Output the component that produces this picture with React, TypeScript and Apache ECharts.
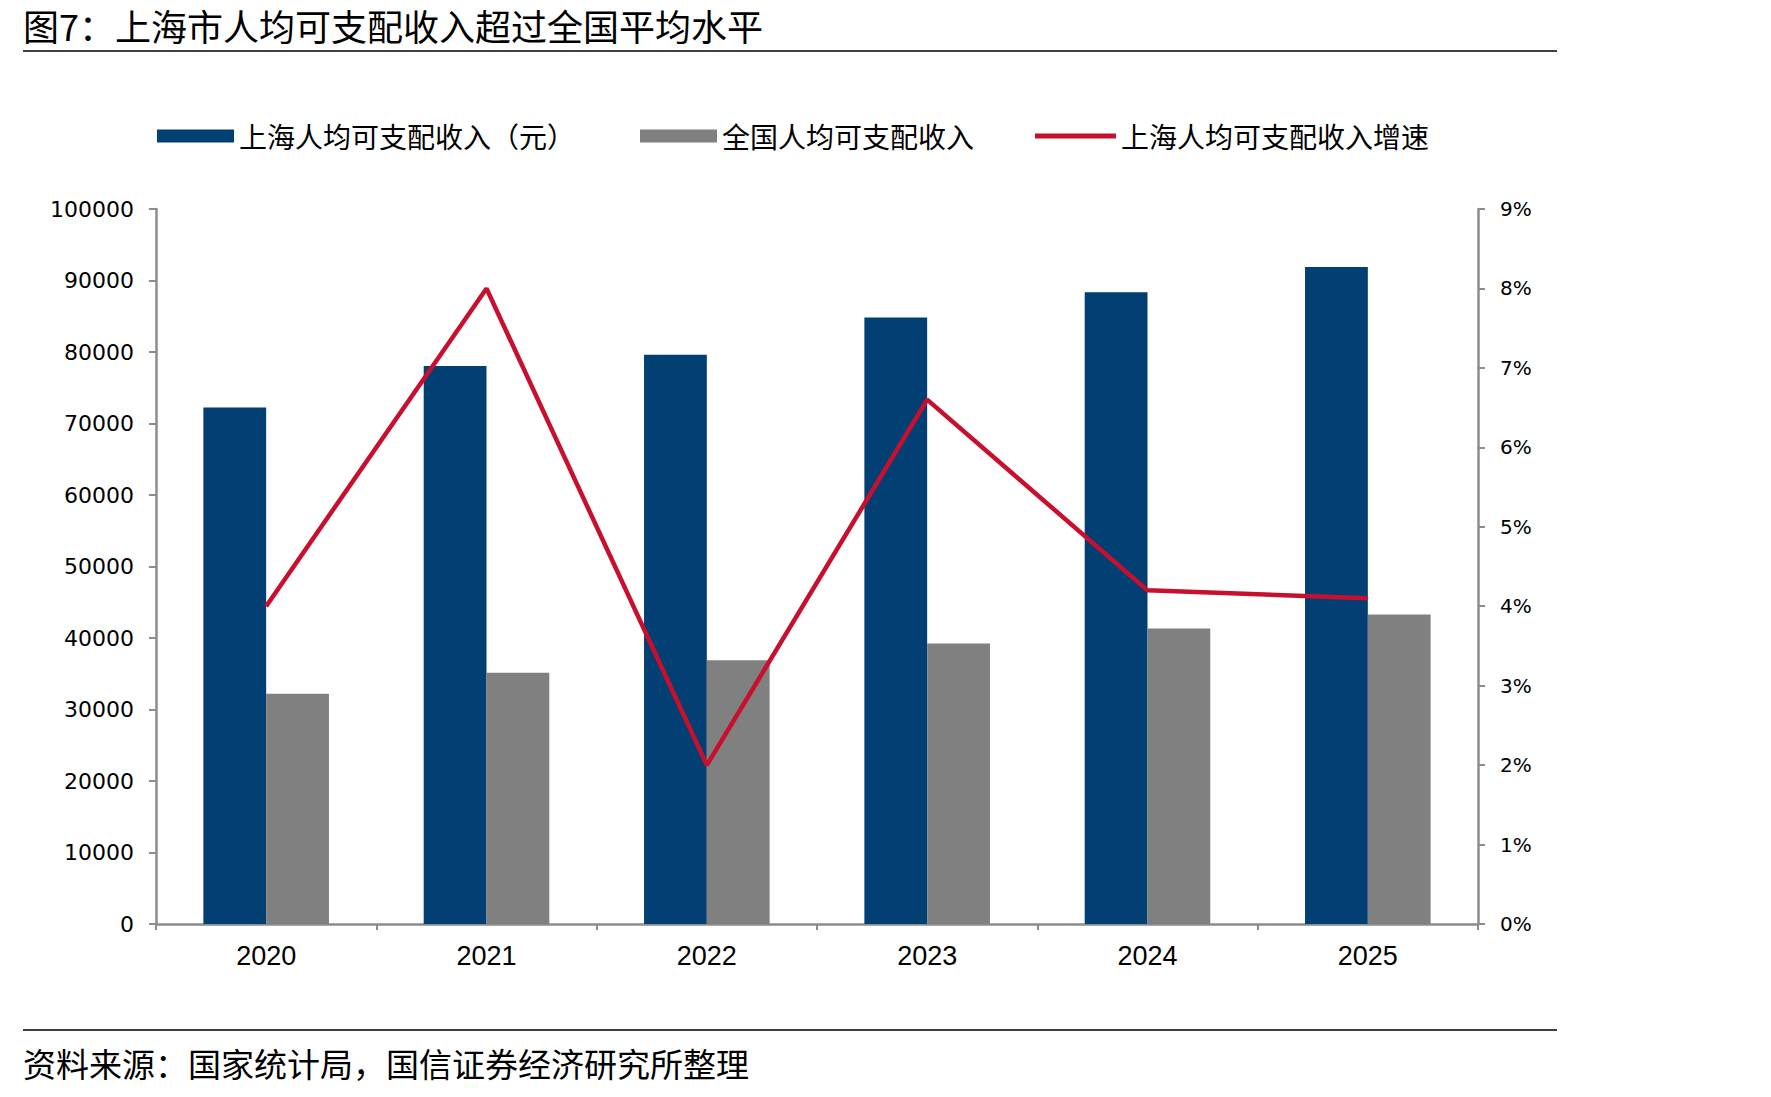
import React, { useEffect, useRef } from "react";
import * as echarts from "echarts";

// Years on the category axis
const years = ["2020", "2021", "2022", "2023", "2024", "2025"];
// 上海人均可支配收入（元）
const shanghaiIncome = [72232, 78027, 79610, 84834, 88366, 91900];
// 全国人均可支配收入（元）
const nationalIncome = [32189, 35128, 36883, 39218, 41314, 43300];
// 上海人均可支配收入增速（%）
const shanghaiGrowth = [4.0, 8.0, 2.0, 6.6, 4.2, 4.1];

const seriesNames = ["上海人均可支配收入（元）", "全国人均可支配收入", "上海人均可支配收入增速"];
const titleText = "图7：上海市人均可支配收入超过全国平均水平";
const sourceText = "资料来源：国家统计局，国信证券经济研究所整理";

const BLUE = "#023F73";
const GRAY = "#808080";
const RED = "#C8102E";
const AXIS = "#8C8C8C";
const CJK = "'Noto Sans CJK SC', 'Noto Sans', sans-serif";
const NUM = "'DejaVu Sans', Verdana, sans-serif";

export default function App() {
  const ref = useRef<HTMLDivElement>(null);

  useEffect(() => {
    document.body.style.margin = "0";
    if (!ref.current) return;
    const chart = echarts.init(ref.current, null, { renderer: "svg" });

    const legendBase = {
      top: 122,
      padding: 0,
      itemHeight: 13,
      itemWidth: 77,
      itemGap: 8,
      textStyle: { fontFamily: CJK, fontSize: 28, color: "#000" },
    };

    chart.setOption({
      animation: false,
      backgroundColor: "#fff",
      graphic: [
        {
          type: "text",
          left: 23,
          top: 5,
          style: { text: titleText, font: `36px ${CJK}`, fill: "#000", lineHeight: 40 },
        },
        {
          type: "line",
          shape: { x1: 23, y1: 51, x2: 1557, y2: 51 },
          style: { stroke: "#000", lineWidth: 1.5 },
        },
        {
          type: "line",
          shape: { x1: 23, y1: 1030, x2: 1557, y2: 1030 },
          style: { stroke: "#000", lineWidth: 1.5 },
        },
        {
          type: "text",
          left: 23,
          top: 1046,
          style: { text: sourceText, font: `33px ${CJK}`, fill: "#000" },
        },
      ],
      legend: [
        { ...legendBase, left: 157, data: [{ name: seriesNames[0], icon: "rect" }] },
        { ...legendBase, left: 640, data: [{ name: seriesNames[1], icon: "rect" }] },
        {
          ...legendBase,
          left: 1035,
          itemHeight: 5,
          itemWidth: 81,
          data: [{ name: seriesNames[2], icon: "rect" }],
        },
      ],
      grid: { left: 156, right: 293, top: 209, bottom: 173, containLabel: false },
      xAxis: {
        type: "category",
        data: years,
        axisLine: { lineStyle: { color: AXIS, width: 2.5 } },
        axisTick: { show: true, length: 6, lineStyle: { color: AXIS, width: 2 } },
        axisLabel: {
          color: "#000",
          fontFamily: "'Liberation Sans Narrow', 'Liberation Sans', Arial, sans-serif",
          fontSize: 27,
          margin: 18,
        },
      },
      yAxis: [
        {
          type: "value",
          min: 0,
          max: 100000,
          interval: 10000,
          splitLine: { show: false },
          axisLine: { show: true, lineStyle: { color: AXIS, width: 2.5 } },
          axisTick: { show: true, length: 7, lineStyle: { color: AXIS, width: 2 } },
          axisLabel: {
            color: "#000",
            fontFamily: NUM,
            fontSize: 22,
            margin: 22,
            formatter: (v: number) => String(v),
          },
        },
        {
          type: "value",
          min: 0,
          max: 9,
          interval: 1,
          position: "right",
          splitLine: { show: false },
          axisLine: { show: true, lineStyle: { color: AXIS, width: 2.5 } },
          axisTick: { show: true, length: 7, lineStyle: { color: AXIS, width: 2 } },
          axisLabel: {
            color: "#000",
            fontFamily: NUM,
            fontSize: 20,
            margin: 22,
            formatter: "{value}%",
          },
        },
      ],
      series: [
        {
          name: seriesNames[0],
          type: "bar",
          data: shanghaiIncome,
          itemStyle: { color: BLUE },
          barGap: "0%",
          barCategoryGap: "43%",
        },
        {
          name: seriesNames[1],
          type: "bar",
          data: nationalIncome,
          itemStyle: { color: GRAY },
        },
        {
          name: seriesNames[2],
          type: "line",
          yAxisIndex: 1,
          data: shanghaiGrowth,
          showSymbol: false,
          symbol: "none",
          lineStyle: { color: RED, width: 4.5 },
          itemStyle: { color: RED },
          z: 5,
        },
      ],
    });

    return () => chart.dispose();
  }, []);

  return <div ref={ref} style={{ width: 1771, height: 1097 }} />;
}
